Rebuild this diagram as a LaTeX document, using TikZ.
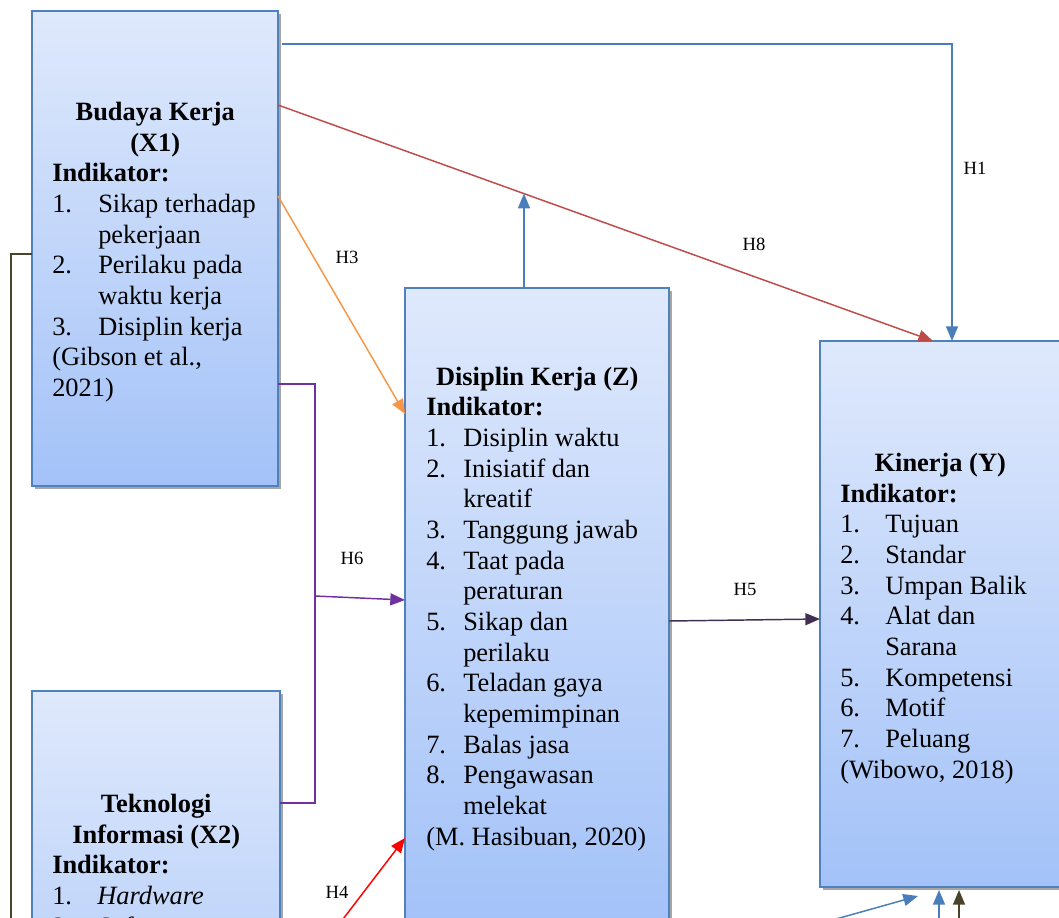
\documentclass[tikz,border=0pt]{standalone}
\usepackage{fontspec}
\setmainfont{Liberation Serif}
\usetikzlibrary{arrows.meta,shadows}

\definecolor{boxline}{HTML}{4F81BD}
\definecolor{boxtop}{HTML}{DFE9FC}
\definecolor{boxbot}{HTML}{A3C2F8}
\definecolor{lnblue}{HTML}{4A7EBB}
\definecolor{lnred}{HTML}{BE4B48}
\definecolor{lnorange}{HTML}{F79646}
\definecolor{lnpurple}{HTML}{7030A0}
\definecolor{lndark}{HTML}{403152}
\definecolor{lnolive}{HTML}{494429}

\newcommand\pxu{0.75pt}
% centred line of a given width
\newcommand\ctr[2]{\makebox[#1]{#2}}
% numbered item with a fixed hanging width
\newcommand\itm[3]{\makebox[#1][l]{#2}#3}

\tikzset{
  varbox/.style={draw=boxline, line width=1.1pt, top color=boxtop, bottom color=boxbot,
    inner sep=0pt, outer sep=0pt,
    drop shadow={shadow xshift=2pt, shadow yshift=-2pt, opacity=0.35, fill=black}},
  boxtext/.style={font=\fontsize{19.8}{23}\selectfont, align=left, inner sep=0pt, anchor=north west},
  hlabel/.style={font=\fontsize{14}{16}\selectfont, inner sep=0pt},
  link/.style={line width=1.1pt},
  arrowlink/.style={line width=1.1pt, -{Triangle[length=11pt,width=9pt]}}
}

\begin{document}
\begin{tikzpicture}[x=0.75pt, y=-0.75pt]
\useasboundingbox (0,0) rectangle (1059,917);
\clip (0,0) rectangle (1059,917);

% variable boxes
\node[varbox, minimum width=246*\pxu, minimum height=475*\pxu] (x1) at (155,248.5) {};
\node[varbox, minimum width=248*\pxu, minimum height=475*\pxu] (x2) at (156,928.5) {};
\node[varbox, minimum width=264*\pxu, minimum height=636*\pxu] (z) at (537,606) {};
\node[varbox, minimum width=244*\pxu, minimum height=546*\pxu] (y) at (942,614) {};

% box contents
\node[boxtext] (x1t) at (52,102) {\ctr{154.5pt}{\bfseries Budaya Kerja}\\
  \ctr{154.5pt}{\bfseries (X1)}\\
  \textbf{Indikator:}\\
  \itm{34.5pt}{1.}{Sikap terhadap}\\
  \hspace*{34.5pt}pekerjaan\\
  \itm{34.5pt}{2.}{Perilaku pada}\\
  \hspace*{34.5pt}waktu kerja\\
  \itm{34.5pt}{3.}{Disiplin kerja}\\
  (Gibson et al.,\\
  2021)};

\node[boxtext] (x2t) at (52,794) {\ctr{156pt}{\bfseries Teknologi}\\
  \ctr{156pt}{\bfseries Informasi (X2)}\\
  \textbf{Indikator:}\\
  \itm{33.75pt}{1.}{\textit{Hardware}}\\
  \itm{33.75pt}{2.}{\textit{Software}}};

\node[boxtext] (zt) at (426,366.5) {\ctr{166.5pt}{\bfseries Disiplin Kerja (Z)}\\
  \textbf{Indikator:}\\
  \itm{27.75pt}{1.}{Disiplin waktu}\\
  \itm{27.75pt}{2.}{Inisiatif dan}\\
  \hspace*{27.75pt}kreatif\\
  \itm{27.75pt}{3.}{Tanggung jawab}\\
  \itm{27.75pt}{4.}{Taat pada}\\
  \hspace*{27.75pt}peraturan\\
  \itm{27.75pt}{5.}{Sikap dan}\\
  \hspace*{27.75pt}perilaku\\
  \itm{27.75pt}{6.}{Teladan gaya}\\
  \hspace*{27.75pt}kepemimpinan\\
  \itm{27.75pt}{7.}{Balas jasa}\\
  \itm{27.75pt}{8.}{Pengawasan}\\
  \hspace*{27.75pt}melekat\\
  (M. Hasibuan, 2020)};

\node[boxtext] (yt) at (840,453) {\ctr{150pt}{\bfseries Kinerja (Y)}\\
  \textbf{Indikator:}\\
  \itm{33.75pt}{1.}{Tujuan}\\
  \itm{33.75pt}{2.}{Standar}\\
  \itm{33.75pt}{3.}{Umpan Balik}\\
  \itm{33.75pt}{4.}{Alat dan}\\
  \hspace*{33.75pt}Sarana\\
  \itm{33.75pt}{5.}{Kompetensi}\\
  \itm{33.75pt}{6.}{Motif}\\
  \itm{33.75pt}{7.}{Peluang}\\
  (Wibowo, 2018)};

% hypothesis labels
\node[hlabel] (lh1) at (975,168) {H1};
\node[hlabel] (lh8) at (754,244) {H8};
\node[hlabel] (lh3) at (347,257) {H3};
\node[hlabel] (lh6) at (352,558) {H6};
\node[hlabel] (lh5) at (745,589) {H5};
\node[hlabel] (lh4) at (337,892) {H4};

% H1: X1 -> Y over the top
\draw[arrowlink, lnblue] ([shift={(4,33)}]x1.north east) -| ([shift={(10,0)}]y.north);

% H8: X1 -> Y, with the moderating arrow from Z onto it
\path ([shift={(0,94)}]x1.north east) -- coordinate[pos=0.3756] (m8) ([shift={(-9,0)}]y.north);
\draw[arrowlink, lnred] ([shift={(0,94)}]x1.north east) -- ([shift={(-9,0)}]y.north);
\coordinate (zm) at ([shift={(-13,0)}]z.north);
\draw[arrowlink, lnblue] (zm) -- (zm |- m8);

% H3: X1 -> Z
\draw[arrowlink, lnorange] ([shift={(0,185)}]x1.north east) -- ([shift={(0,126)}]z.north west);

% H6: X1 and X2 joined -> Z
\coordinate (h6bar) at (315,596);
\draw[link, lnpurple] ([shift={(0,373)}]x1.north east) -| (h6bar) |- ([shift={(0,112)}]x2.north east);
\draw[arrowlink, lnpurple] (h6bar) -- ([shift={(0,312)}]z.north west);

% H5: Z -> Y
\draw[arrowlink, lndark] ([shift={(0,333)}]z.north east) -- ([shift={(0,278)}]y.north west);

% H4: from below -> Z
\coordinate (h4s) at (327,940);
\draw[arrowlink, red] (h4s) -- ([shift={(0,550)}]z.north west);

% arrows into the bottom of Y
\coordinate (b1) at (779,935);
\draw[arrowlink, lnblue] (b1) -- ([shift={(-24,9)}]y.south);
\coordinate (b2) at (939,935);
\draw[arrowlink, lnblue] (b2) -- ([shift={(-3,3)}]y.south);
\coordinate (lft) at (11,940);
\draw[arrowlink, lnolive] ([shift={(0,243)}]x1.north west) -| (lft) -| ([shift={(17,3)}]y.south);
\end{tikzpicture}
\end{document}
